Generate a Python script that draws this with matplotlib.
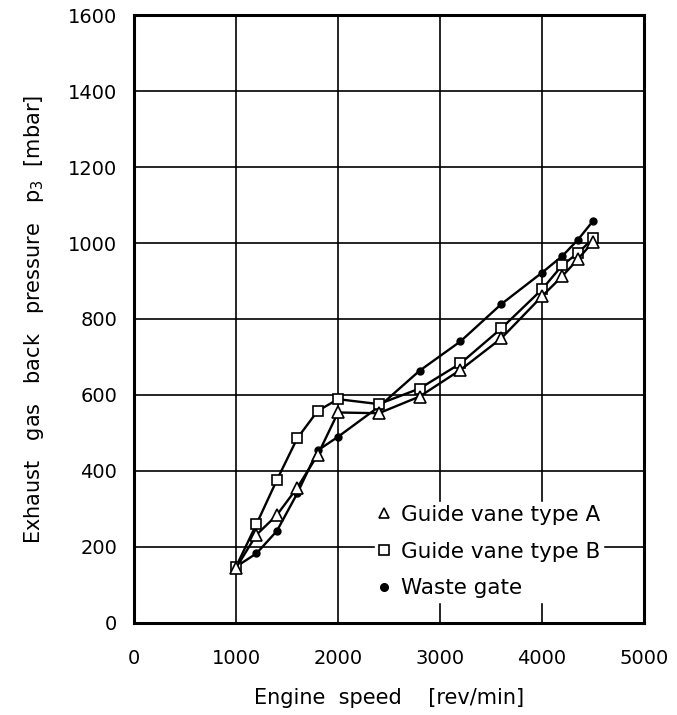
import numpy as np
import matplotlib
matplotlib.use('Agg')
import matplotlib.pyplot as plt

# engine speed [rev/min] and back pressure [mbar]
speed_a = [1000, 1200, 1400, 1600, 1800, 2000, 2400, 2800, 3200, 3600, 4000, 4200, 4350, 4500]
press_a = [145, 232, 284, 356, 442, 554, 552, 596, 666, 749, 860, 913, 957, 1003]

speed_b = [1000, 1200, 1400, 1600, 1800, 2000, 2400, 2800, 3200, 3600, 4000, 4200, 4350, 4500]
press_b = [148, 260, 376, 486, 558, 589, 576, 617, 683, 775, 878, 942, 973, 1012]

speed_w = [1000, 1200, 1400, 1600, 1800, 2000, 2400, 2800, 3200, 3600, 4000, 4200, 4350, 4500]
press_w = [148, 183, 242, 341, 454, 490, 569, 664, 741, 839, 922, 966, 1008, 1058]

plt.rcParams['font.family'] = 'DejaVu Sans'

fig = plt.figure(figsize=(6.77, 7.15), dpi=100)
ax = fig.add_axes([0.198, 0.1287, 0.7533, 0.8503])

ax.plot(speed_w, press_w, color='black', lw=1.7, marker='o', ms=5,
        mfc='black', mec='black', label='Waste gate', zorder=3)
ax.plot(speed_b, press_b, color='black', lw=1.7, marker='s', ms=7.5,
        mfc='white', mec='black', mew=1.2, label='Guide vane type B', zorder=4)
ax.plot(speed_a, press_a, color='black', lw=1.7, marker='^', ms=8,
        mfc='white', mec='black', mew=1.2, label='Guide vane type A', zorder=5)

ax.set_xlim(0, 5000)
ax.set_ylim(0, 1600)
ax.set_xticks(np.arange(0, 5001, 1000))
ax.set_yticks(np.arange(0, 1601, 200))
ax.grid(True, color='black', lw=1.2)
ax.set_axisbelow(True)
for s in ax.spines.values():
    s.set_linewidth(2.2)
ax.tick_params(length=0, pad=12, labelsize=14)
ax.tick_params(axis='x', pad=19)

ax.set_xlabel('Engine  speed    [rev/min]', fontsize=15, labelpad=14)
ax.set_ylabel('Exhaust   gas   back   pressure   p$_3$  [mbar]', fontsize=15, labelpad=16)

h, l = ax.get_legend_handles_labels()
leg = ax.legend(h[::-1], l[::-1], loc='lower right', bbox_to_anchor=(0.92, 0.035),
                frameon=True, fontsize=15.5, handlelength=0.5, handletextpad=0.55,
                labelspacing=0.78, borderpad=0.15, borderaxespad=0)
leg.get_frame().set_edgecolor('white')
leg.get_frame().set_facecolor('white')
leg.get_frame().set_alpha(1)
for line in leg.get_lines():
    line.set_linestyle('')
leg.legend_handles[0].set_markersize(7)
leg.legend_handles[1].set_markersize(7)
leg.legend_handles[2].set_markersize(5.5)

plt.savefig('out.png', dpi=100)
